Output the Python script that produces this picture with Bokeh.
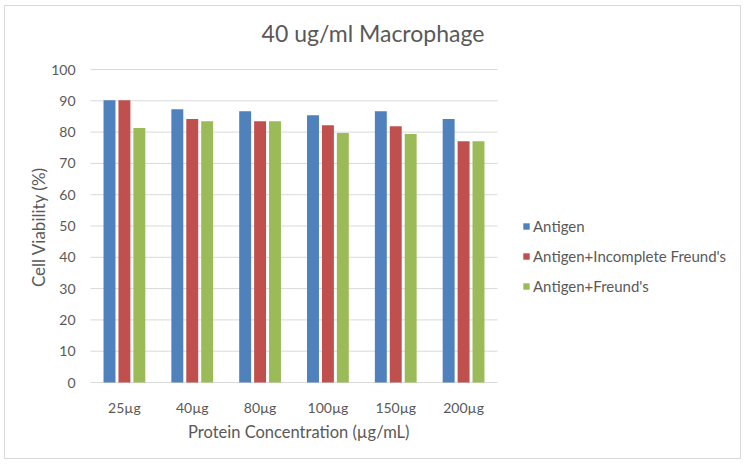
import math
from bokeh.plotting import figure
from bokeh.models import Legend, LegendItem, ColumnDataSource, Label, Range1d
from bokeh.core.properties import value
from bokeh.embed import file_html
from bokeh.resources import INLINE

concentrations = ["25µg", "40µg", "80µg", "100µg", "150µg", "200µg"]
antigen = [90.2, 87.3, 86.7, 85.4, 86.7, 84.2]
antigen_incomplete = [90.2, 84.2, 83.5, 82.2, 81.9, 77.1]
antigen_freund = [81.3, 83.5, 83.5, 79.7, 79.4, 77.1]
y_ticks = [0, 10, 20, 30, 40, 50, 60, 70, 80, 90, 100]

series_names = ["Antigen", "Antigen+Incomplete Freund's", "Antigen+Freund's"]
series_values = [antigen, antigen_incomplete, antigen_freund]
colors = ["#4F81BD", "#C0504D", "#9BBB59"]

FONT = "Lato"
TEXT = "#595959"
GRID = "#d9d9d9"

n = len(concentrations)
centers = [i + 0.5 for i in range(n)]

# One frame covers the whole canvas; the category band x in [0, n], y in
# [0, 100] occupies a 407 x 313 px box inside it, and the axis texts, title
# and legend are placed around that box.
W, H = 737, 454
BAND_LEFT, BAND_BOTTOM = 85, 78      # px from canvas left / bottom
BAND_W, BAND_H = 407, 313
ux = BAND_W / n
uy = BAND_H / 100
x_range = Range1d(-BAND_LEFT / ux, (W - BAND_LEFT) / ux)
y_range = Range1d(-BAND_BOTTOM / uy, (H - BAND_BOTTOM) / uy)

p = figure(
    width=W, height=H, x_range=x_range, y_range=y_range,
    output_backend="svg", toolbar_location=None,
    min_border=0,
)
p.title.visible = False
p.axis.visible = False
p.grid.visible = False
p.styles = {"margin-left": "4px", "margin-top": "5px", "border": f"1px solid {GRID}"}
p.outline_line_color = None
p.background_fill_color = "white"
p.border_fill_color = "white"

# horizontal gridlines over the category band
p.segment(x0=[0] * len(y_ticks), x1=[n] * len(y_ticks), y0=y_ticks, y1=y_ticks,
          line_color=GRID, line_width=1)

renderers = []
for vals, off, color in zip(series_values, [-0.22, 0.0, 0.22], colors):
    src = ColumnDataSource(dict(x=[c + off for c in centers], top=vals))
    r = p.vbar(x="x", top="top", width=0.176, source=src,
               fill_color=color, line_color=None)
    renderers.append(r)

# y tick labels
p.text(x=[-15 / ux] * len(y_ticks), y=y_ticks, text=[str(v) for v in y_ticks],
       text_align="right", text_baseline="middle", text_font=value(FONT),
       text_font_size="14px", text_color=TEXT)

# x tick labels
p.text(x=centers, y=[-25 / uy] * n, text=concentrations,
       text_align="center", text_baseline="middle", text_font=value(FONT),
       text_font_size="14px", text_color=TEXT)

# axis titles
p.add_layout(Label(x=3.07, y=-49 / uy, text="Protein Concentration (µg/mL)",
                   text_align="center", text_baseline="middle",
                   text_font=FONT, text_font_size="16.5px", text_color=TEXT))
p.add_layout(Label(x=-52 / ux, y=155.5 / uy, text="Cell Viability (%)",
                   angle=math.pi / 2, text_align="center", text_baseline="middle",
                   text_font=FONT, text_font_size="17px", text_color=TEXT))

# chart title
p.add_layout(Label(x=282.5 / ux, y=349.5 / uy, text="40 ug/ml Macrophage",
                   text_align="center", text_baseline="middle",
                   text_font=FONT, text_font_size="23px", text_color=TEXT))

legend = Legend(
    items=[LegendItem(label=nm, renderers=[r]) for nm, r in zip(series_names, renderers)],
    location=(517, 164),
    glyph_width=8, glyph_height=8,
    label_height=20, spacing=10, padding=0, margin=0,
    label_standoff=3,
    label_text_font=FONT, label_text_font_size="15px", label_text_color=TEXT,
    border_line_color=None, background_fill_alpha=0,
)
p.add_layout(legend)

open("out.html", "w").write(file_html(p, INLINE))
